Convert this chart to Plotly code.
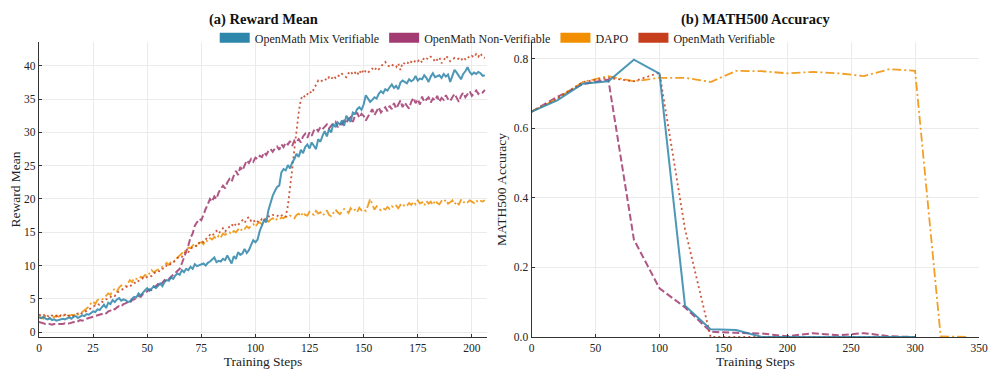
import plotly.graph_objects as go

# ---- (a) Reward Mean: one value per training step (0..206) ----
reward_steps = list(range(207))

mix_verifiable_reward = [
    2.2, 2.1, 2.3, 2.0, 1.9, 2.1, 1.8, 1.9, 1.7, 1.8,
    1.8, 2.0, 1.9, 2.1, 2.2, 2.0, 2.3, 2.4, 2.1, 2.3,
    2.5, 2.4, 2.7, 2.6, 2.9, 3.1, 3.0, 3.4, 3.3, 3.8,
    4.1, 3.6, 4.4, 4.2, 4.8, 4.5, 4.9, 5.1, 4.7, 4.9,
    4.8, 4.5, 4.6, 5.0, 5.3, 5.2, 5.8, 5.5, 6.0, 6.3,
    6.6, 6.2, 6.5, 6.9, 6.6, 7.0, 7.3, 6.9, 7.5, 7.8,
    7.7, 8.2, 8.0, 8.5, 8.8, 8.6, 9.3, 9.0, 9.5, 9.3,
    9.8, 9.5, 10.2, 9.9, 10.0, 10.1, 10.3, 10.0, 10.4, 10.6,
    10.9, 11.2, 10.5, 10.7, 10.6, 11.0, 10.8, 11.5, 10.9, 10.3,
    11.4, 11.0, 12.0, 11.6, 11.8, 12.5, 11.9, 12.3, 13.1, 13.8,
    13.5, 13.9, 15.2, 16.0, 16.8, 16.5, 18.3, 19.4, 20.5, 21.2,
    21.8, 22.0, 24.0, 24.5, 24.3, 25.1, 24.6, 25.5, 26.0, 26.8,
    26.3, 27.4, 26.9, 27.8, 28.2, 27.6, 28.5, 28.0, 27.5, 29.0,
    28.6, 29.5, 30.2, 29.4, 30.5, 30.0, 31.3, 30.8, 31.5, 31.2,
    31.8, 31.0, 32.5, 32.0, 31.6, 33.0, 32.8, 33.5, 33.8, 33.4,
    34.2, 35.6, 35.0, 34.6, 34.9, 35.3, 35.1, 35.8, 36.2, 35.9,
    36.5, 36.3, 36.8, 37.2, 36.7, 37.0, 36.5, 37.5, 37.8, 37.6,
    37.4, 38.0, 37.7, 37.9, 38.5, 37.8, 38.1, 38.0, 38.6, 38.2,
    37.6, 38.4, 38.9, 38.3, 38.5, 38.6, 38.2, 38.8, 38.4, 38.7,
    37.6, 38.5, 39.4, 39.0, 38.5, 38.0, 38.8, 39.2, 39.8, 39.1,
    38.7, 39.0, 38.8, 39.1, 38.9, 38.5, 38.6,
]

non_verifiable_reward = [
    1.5, 1.4, 1.3, 1.2, 1.3, 1.2, 1.1, 1.2, 1.2, 1.1,
    1.2, 1.2, 1.3, 1.2, 1.3, 1.4, 1.5, 1.4, 1.6, 1.8,
    1.7, 1.9, 2.0, 2.1, 2.2, 2.2, 2.4, 2.5, 2.6, 2.7,
    2.9, 2.8, 3.1, 3.2, 3.5, 3.4, 3.7, 3.9, 3.8, 4.2,
    4.3, 4.5, 4.4, 4.8, 4.9, 5.1, 5.4, 5.3, 5.7, 5.9,
    6.1, 6.4, 6.3, 6.7, 6.9, 7.2, 7.0, 7.5, 7.8, 7.6,
    8.0, 8.3, 8.6, 8.9, 9.1, 9.5, 10.3, 11.2, 12.0, 13.0,
    14.2, 14.8, 16.0, 16.5, 17.0, 16.8, 17.8, 18.5, 19.2, 20.0,
    19.6, 20.4, 20.0, 21.0, 21.5, 22.0, 21.6, 22.5, 23.0, 22.6,
    23.5, 24.2, 23.6, 24.8, 24.3, 25.0, 25.8, 25.4, 26.0, 25.6,
    26.2, 26.0, 26.5, 26.3, 27.0, 26.6, 27.2, 27.5, 27.1, 27.6,
    27.9, 27.4, 28.2, 27.8, 28.5, 28.2, 28.7, 28.0, 28.8, 28.6,
    29.0, 28.5, 29.4, 29.8, 29.2, 30.0, 29.5, 30.3, 30.6, 30.2,
    30.8, 30.5, 30.9, 31.2, 30.6, 31.0, 31.4, 31.6, 30.8, 31.3,
    31.2, 31.8, 31.5, 32.0, 32.3, 31.6, 32.5, 33.0, 32.2, 32.8,
    32.5, 31.8, 32.3, 33.0, 33.5, 32.6, 33.2, 33.8, 33.0, 33.4,
    33.8, 33.2, 34.0, 33.5, 34.4, 33.6, 34.2, 34.8, 33.8, 34.5,
    34.0, 33.6, 34.6, 35.2, 34.4, 35.0, 34.2, 35.4, 34.6, 35.0,
    35.3, 34.5, 35.1, 34.8, 35.5, 34.6, 35.2, 34.9, 35.6, 35.0,
    34.7, 35.3, 35.8, 35.2, 34.6, 35.5, 36.0, 35.3, 35.7, 36.2,
    35.5, 35.9, 36.3, 35.8, 36.1, 36.0, 36.4,
]

dapo_reward = [
    2.3, 2.1, 2.0, 2.4, 2.2, 2.0, 2.3, 2.2, 2.5, 2.3,
    2.4, 2.6, 2.3, 2.5, 2.4, 2.6, 2.5, 2.8, 2.6, 2.9,
    3.0, 3.3, 3.6, 3.8, 4.3, 4.6, 4.2, 4.8, 5.0, 4.9,
    5.1, 5.4, 5.8, 5.6, 6.2, 6.5, 6.1, 6.7, 7.0, 6.8,
    6.9, 7.3, 7.8, 7.5, 8.1, 8.0, 7.9, 8.3, 8.2, 8.6,
    8.4, 8.8, 9.3, 9.0, 9.2, 9.5, 9.6, 9.8, 10.0, 10.4,
    10.1, 10.6, 10.4, 10.9, 11.2, 11.6, 11.8, 12.3, 12.1, 12.7,
    12.6, 13.0, 13.3, 12.8, 13.4, 13.5, 13.2, 13.8, 13.6, 14.1,
    13.9, 14.3, 14.0, 14.5, 14.2, 14.8, 14.6, 14.9, 15.0, 14.7,
    15.2, 15.0, 15.4, 15.1, 15.6, 15.5, 15.9, 15.6, 16.0, 16.2,
    15.8, 16.3, 16.5, 16.2, 16.8, 17.0, 16.6, 16.9, 17.1, 16.7,
    17.0, 16.9, 17.2, 17.1, 17.4, 17.2, 17.5, 17.3, 17.1, 17.6,
    17.8, 17.4, 18.0, 17.6, 17.5, 18.1, 17.9, 17.6, 18.2, 17.8,
    18.0, 17.5, 17.8, 18.3, 17.6, 17.4, 17.9, 18.4, 18.0, 17.7,
    18.1, 18.5, 18.3, 17.9, 18.6, 18.2, 18.4, 18.0, 18.7, 18.3,
    18.5, 18.2, 19.0, 20.0, 19.2, 18.4, 18.9, 18.5, 18.3, 18.6,
    18.4, 18.8, 18.5, 18.9, 18.7, 19.0, 18.6, 19.1, 18.8, 19.2,
    19.0, 19.4, 19.1, 19.6, 19.2, 19.8, 19.3, 19.5, 19.0, 19.7,
    19.3, 19.6, 19.1, 19.8, 19.4, 19.2, 19.7, 19.5, 19.9, 19.3,
    19.5, 19.8, 19.2, 19.6, 19.1, 19.9, 19.4, 19.7, 19.5, 19.8,
    19.6, 19.4, 19.8, 19.5, 19.7, 19.6, 19.8,
]

verifiable_reward = [
    2.6, 2.5, 2.7, 2.3, 2.4, 2.2, 2.5, 2.3, 2.4, 2.2,
    2.5, 2.4, 2.6, 2.3, 2.5, 2.6, 2.4, 2.7, 2.8, 2.6,
    2.9, 3.0, 3.1, 3.3, 3.6, 3.8, 4.0, 4.2, 4.1, 4.5,
    4.6, 4.9, 5.0, 5.3, 5.5, 5.4, 5.9, 6.1, 6.3, 6.5,
    6.6, 6.9, 6.8, 7.2, 7.4, 7.3, 7.7, 7.8, 8.1, 8.0,
    8.3, 8.5, 8.4, 8.8, 9.0, 9.2, 9.1, 9.5, 9.6, 10.0,
    9.9, 10.3, 10.5, 10.8, 11.0, 11.4, 11.3, 11.8, 12.2, 12.0,
    12.5, 12.8, 13.0, 12.9, 13.4, 13.7, 13.5, 14.0, 14.3, 14.6,
    14.4, 14.9, 15.2, 14.8, 15.3, 15.6, 15.1, 15.5, 15.9, 16.2,
    15.8, 16.3, 16.1, 16.5, 16.8, 16.4, 17.0, 17.3, 16.7, 16.9,
    16.4, 16.6, 16.5, 17.0, 16.8, 17.2, 17.4, 17.3, 17.6, 17.5,
    17.4, 17.7, 17.5, 17.6, 17.3, 19.0, 21.5, 24.5, 27.5, 30.5,
    33.0, 35.0, 35.6, 35.3, 35.8, 36.2, 35.9, 36.5, 37.2, 37.8,
    37.6, 37.9, 38.1, 37.8, 38.3, 38.0, 38.5, 38.2, 38.6, 38.4,
    38.8, 38.5, 38.3, 38.9, 39.2, 38.7, 39.0, 38.6, 39.3, 38.8,
    39.5, 39.1, 38.9, 39.4, 39.6, 39.3, 39.8, 39.5, 40.0, 40.3,
    40.6, 40.1, 39.9, 40.2, 40.0, 39.8, 40.4, 39.4, 40.5, 40.3,
    40.2, 40.8, 40.6, 40.4, 40.9, 40.7, 41.0, 40.5, 41.3, 41.1,
    41.0, 41.4, 41.2, 40.6, 41.0, 41.3, 40.4, 40.8, 41.5, 41.2,
    40.7, 40.9, 41.2, 41.0, 41.1, 40.8, 41.3, 41.0, 41.4, 41.2,
    41.5, 41.3, 41.8, 41.4, 41.9, 41.3, 41.2,
]

# ---- (b) MATH500 Accuracy: evaluated every 20 steps ----
eval_steps = [0, 20, 40, 60, 80, 100, 120, 140, 160, 180, 200, 220, 240, 260, 280, 300, 320, 340]

mix_verifiable_acc = [0.648, 0.680, 0.728, 0.735, 0.797, 0.757, 0.090, 0.022, 0.020, 0.0,
                      0.0, 0.0, 0.0, 0.0, 0.0, 0.0]
non_verifiable_acc = [0.648, 0.690, 0.727, 0.740, 0.280, 0.140, 0.085, 0.015, 0.012, 0.010,
                      0.002, 0.011, 0.005, 0.011, 0.002, 0.0]
dapo_acc = [0.648, 0.685, 0.733, 0.750, 0.735, 0.745, 0.745, 0.733, 0.765, 0.764,
            0.758, 0.762, 0.758, 0.750, 0.770, 0.765, 0.002, 0.0]
verifiable_acc = [0.648, 0.685, 0.733, 0.745, 0.735, 0.760, 0.310, 0.0, 0.0, 0.0,
                  0.0, 0.0, 0.0, 0.0, 0.0, 0.0]

series = [
    # name, colour, dash, width, reward values, accuracy values
    ("OpenMath Mix Verifiable", "#2E86AB", "solid", 2.0, mix_verifiable_reward, mix_verifiable_acc),
    ("OpenMath Non-Verifiable", "#A23B72", "7px,3px", 2.0, non_verifiable_reward, non_verifiable_acc),
    ("DAPO", "#F18F01", "9px,3px,2px,3px", 1.8, dapo_reward, dapo_acc),
    ("OpenMath Verifiable", "#C73E1D", "2px,3px", 1.8, verifiable_reward, verifiable_acc),
]

SERIF = "Liberation Serif, Times New Roman, serif"
INK = "#222222"

fig = go.Figure()

# draw order: purple first, then orange, red, blue on top (as in the reference)
for name, color, dash, width, reward, acc in [series[1], series[2], series[3], series[0]]:
    fig.add_trace(go.Scatter(
        x=reward_steps, y=reward, mode="lines", showlegend=False,
        line=dict(color=color, dash=dash, width=width), opacity=0.85,
        xaxis="x", yaxis="y",
    ))
    fig.add_trace(go.Scatter(
        x=eval_steps[:len(acc)], y=acc, mode="lines", showlegend=False,
        line=dict(color=color, dash=dash, width=width), opacity=0.85,
        xaxis="x2", yaxis="y2",
    ))

# legend-only entries drawn as colour patches
for name, color, dash, width, reward, acc in series:
    fig.add_trace(go.Scatter(
        x=[None], y=[None], mode="lines", name=name,
        line=dict(color=color, width=10), xaxis="x", yaxis="y",
    ))

axis_common = dict(
    showline=True, linecolor="#333333", linewidth=1.3, mirror=False, automargin=False,
    ticks="inside", ticklen=3, tickwidth=1, tickcolor="#333333",
    showgrid=True, gridcolor="#ebebeb", gridwidth=0.8, zeroline=False,
    tickfont=dict(family=SERIF, size=11.5, color=INK),
    title_font=dict(family=SERIF, size=13.5, color=INK),
)

# the page body adds an 8px offset, so the figure is 8px smaller on each leading side
fig.update_layout(
    width=988, height=368,
    margin=dict(l=31, r=17, t=34, b=39, autoexpand=False),
    paper_bgcolor="white", plot_bgcolor="white",
    font=dict(family=SERIF, color=INK),
    xaxis=dict(domain=[0, 0.4766], range=[0, 207], tickvals=[0, 25, 50, 75, 100, 125, 150, 175, 200],
               title=dict(text="Training Steps", standoff=2), **axis_common),
    yaxis=dict(domain=[0, 1], range=[-0.75, 43.6], tickvals=[0, 5, 10, 15, 20, 25, 30, 35, 40],
               title=dict(text="Reward Mean", standoff=4), **axis_common),
    xaxis2=dict(domain=[0.5241, 1], range=[0, 350], tickvals=[0, 50, 100, 150, 200, 250, 300, 350],
                anchor="y2", title=dict(text="Training Steps", standoff=2), **axis_common),
    yaxis2=dict(domain=[0, 1], range=[0, 0.848], tickvals=[0, 0.2, 0.4, 0.6, 0.8], tickformat=".1f",
                anchor="x2", title=dict(text="MATH500 Accuracy", standoff=4), **axis_common),
    legend=dict(orientation="h", x=0.488, xanchor="center", y=1.014, yanchor="middle",
                font=dict(family=SERIF, size=12, color=INK), bgcolor="rgba(0,0,0,0)",
                itemwidth=30, tracegroupgap=0),
    annotations=[
        dict(text="<b>(a) Reward Mean</b>", x=0.2383, y=1.113, xref="paper", yref="paper",
             xanchor="center", yanchor="top", showarrow=False,
             font=dict(family=SERIF, size=14.5, color="#111111")),
        dict(text="<b>(b) MATH500 Accuracy</b>", x=0.762, y=1.113, xref="paper", yref="paper",
             xanchor="center", yanchor="top", showarrow=False,
             font=dict(family=SERIF, size=14.5, color="#111111")),
    ],
)

fig.write_html("out.html")
